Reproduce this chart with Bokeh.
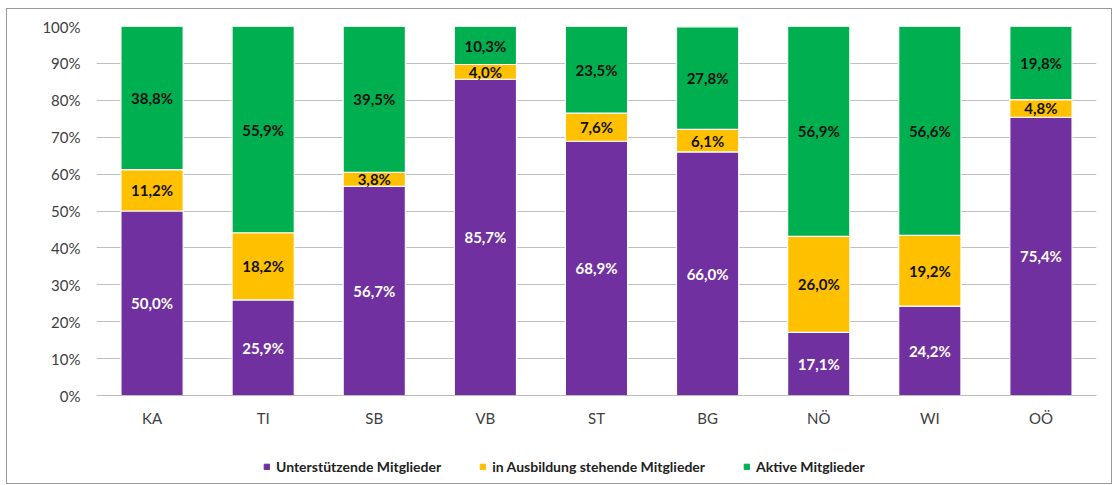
from bokeh.plotting import figure
from bokeh.layouts import column
from bokeh.models import ColumnDataSource, Legend, LegendItem, FixedTicker, LabelSet, Range1d
from bokeh.core.properties import value
from bokeh.embed import file_html
from bokeh.resources import INLINE

categories = ["KA", "TI", "SB", "VB", "ST", "BG", "NÖ", "WI", "OÖ"]
unterstuetzend = [50.0, 25.9, 56.7, 85.7, 68.9, 66.0, 17.1, 24.2, 75.4]
ausbildung = [11.2, 18.2, 3.8, 4.0, 7.6, 6.1, 26.0, 19.2, 4.8]
aktiv = [38.8, 55.9, 39.5, 10.3, 23.5, 27.8, 56.9, 56.6, 19.8]
series_names = ["Unterstützende Mitglieder", "in Ausbildung stehende Mitglieder", "Aktive Mitglieder"]
colors = ["#7030A0", "#FFC000", "#00B050"]
y_ticks = [0, 10, 20, 30, 40, 50, 60, 70, 80, 90, 100]

FONT = "Lato"

src = ColumnDataSource(dict(cat=categories, u=unterstuetzend, a=ausbildung, k=aktiv))

p = figure(x_range=categories, y_range=(0, 100), width=1104, height=427,
           output_backend="svg", toolbar_location=None,
           min_border_left=89, min_border_right=15, min_border_top=17, min_border_bottom=41)

renderers = p.vbar_stack(["u", "a", "k"], x="cat", width=0.56, source=src,
                         color=colors, line_color="white", line_width=1.2)

lab = {"x": [], "y": [], "t": [], "c": []}
for i, c in enumerate(categories):
    vals = [unterstuetzend[i], ausbildung[i], aktiv[i]]
    base = 0
    for j, v in enumerate(vals):
        lab["x"].append(c)
        lab["y"].append(base + v / 2)
        lab["t"].append(f"{v:.1f}%".replace(".", ","))
        lab["c"].append("white" if j == 0 else "#111111")
        base += v
lsrc = ColumnDataSource(lab)
labels = LabelSet(x="x", y="y", text="t", source=lsrc, text_align="center", text_baseline="middle",
                  text_font=value(FONT), text_font_style="bold", text_font_size="15px", text_color="c")
p.add_layout(labels)

p.xgrid.grid_line_color = None
p.ygrid.grid_line_color = "#c0c0c0"
p.ygrid.grid_line_width = 1
p.yaxis.ticker = FixedTicker(ticks=y_ticks)
p.yaxis.major_label_overrides = {t: f"{t}%" for t in y_ticks}
p.yaxis.axis_line_color = None
p.yaxis.major_tick_line_color = None
p.yaxis.minor_tick_line_color = None
p.yaxis.major_label_text_font = FONT
p.yaxis.major_label_text_font_size = "15px"
p.yaxis.major_label_text_color = "#404040"
p.yaxis.major_label_standoff = 10

p.xaxis.axis_line_color = "#bdbdbd"
p.xaxis.major_tick_line_color = None
p.xaxis.minor_tick_line_color = None
p.xaxis.major_label_text_font = FONT
p.xaxis.major_label_text_font_size = "15px"
p.xaxis.major_label_text_color = "#404040"
p.xaxis.major_label_standoff = 7
p.x_range.range_padding = 0.0
p.outline_line_color = None

# legend figure
lf = figure(width=1104, height=47, output_backend="svg", toolbar_location=None,
            x_range=Range1d(0, 1), y_range=Range1d(0, 1),
            min_border_left=0, min_border_right=0, min_border_top=0, min_border_bottom=0)
lf.axis.visible = False
lf.grid.grid_line_color = None
lf.outline_line_color = None
dummy = [lf.vbar(x=[-5], bottom=[-5], top=[-4], width=0.5, color=colors[i]) for i in range(3)]
items = [LegendItem(label=series_names[i], renderers=[dummy[i]]) for i in range(3)]
legend = Legend(items=items, orientation="horizontal", location=(167, 8),
                glyph_width=7, glyph_height=7, label_text_font=FONT, label_text_font_style="bold",
                label_text_font_size="14px", label_text_color="#222222", spacing=38,
                label_standoff=6, border_line_color=None, background_fill_alpha=0,
                padding=2, margin=0)
lf.add_layout(legend, "center")

layout = column(p, lf, spacing=0)
layout.styles = {"border": "1px solid #9a9a9a", "margin-left": "6px", "margin-top": "8px"}

open("out.html", "w").write(file_html(layout, INLINE))
